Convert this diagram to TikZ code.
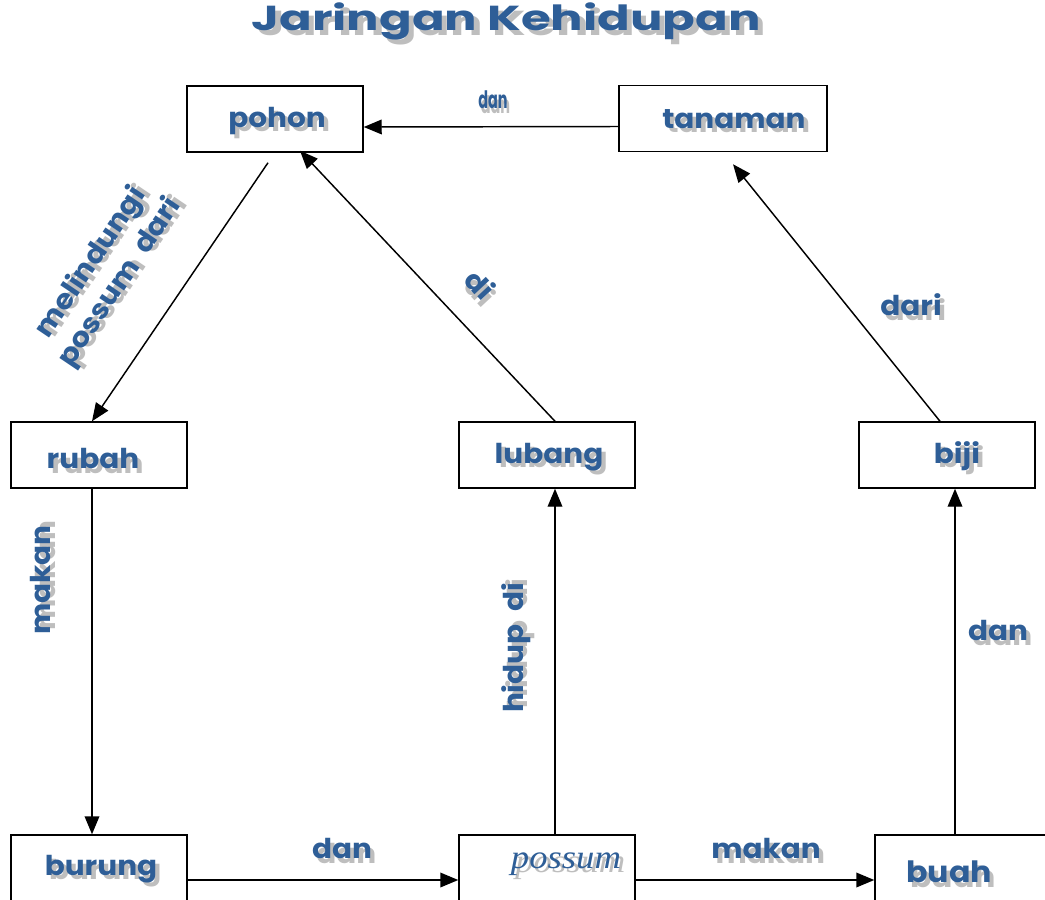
\documentclass[tikz,border=0pt]{standalone}
\usepackage{fontspec}
\setmainfont{Poppins}[BoldFont={* Bold}]
\newfontfamily\serifit{Liberation Serif}
\newfontfamily\titlefont{Poppins}[UprightFont={* Bold}]
\usetikzlibrary{arrows.meta}
\definecolor{txtblue}{HTML}{2E5E97}
\definecolor{shgray}{HTML}{BEBEBE}
\newcommand\shd[1]{\leavevmode\rlap{\kern3pt\raisebox{-3.4pt}{\color{shgray}#1}}{\color{txtblue}#1}}
\newcommand\wide[1]{\scalebox{1.08}[1]{\shd{#1}}}
\tikzset{
  box/.style={draw=black, line width=1.1pt, rectangle, minimum width=132pt, minimum height=49.5pt, inner sep=0pt},
  lowbox/.style={box, minimum height=67.5pt},
  conn/.style={line width=1.1pt, -{Triangle[length=13.5pt,width=11pt]}},
  lbl/.style={inner sep=0pt, font=\fontsize{20.5}{24}\selectfont\bfseries},
}
\begin{document}
\begin{tikzpicture}[x=0.75pt,y=-0.75pt]
\clip (0,0) rectangle (1045,899);
\fill[white] (0,0) rectangle (1045,899);
% title
\node[inner sep=0pt, font=\titlefont\fontsize{26}{30}\selectfont] (title) at (506,24) {\scalebox{1.39}[1]{\shd{Jaringan Kehidupan}}};
% boxes
\node[box] (pohon) at (275,119) {};
\node[box, minimum width=156pt] (tanaman) at (723,118.5) {};
\node[box] (rubah) at (99,455) {};
\node[box] (lubang) at (547,455) {};
\node[box] (biji) at (947,455) {};
\node[lowbox] (burung) at (99,880) {};
\node[lowbox] (possum) at (547,880) {};
\node[lowbox] (buah) at (963,880) {};
% box texts
\node[lbl] (tpohon) at (277,123) {\wide{pohon}};
\node[lbl] (ttanaman) at (734,121) {\wide{tanaman}};
\node[lbl] (trubah) at (93,461) {\wide{rubah}};
\node[lbl] (tlubang) at (549,459) {\wide{lubang}};
\node[lbl] (tbiji) at (957,458) {\wide{biji}};
\node[lbl] (tburung) at (101,871) {\wide{burung}};
\node[inner sep=0pt, font=\serifit\itshape\fontsize{25}{28}\selectfont] (tpossum) at (566,866) {\scalebox{1.1}[1]{\shd{possum}}};
\node[lbl, font=\fontsize{22}{24}\selectfont\bfseries] (tbuah) at (949,874) {\wide{buah}};
% connectors
\draw[conn] ([shift={(0,8)}]tanaman.west) -- ([shift={(0,8)}]pohon.east);
\draw[conn] ([shift={(-7,10)}]pohon.south) -- ([shift={(-7,0)}]rubah.north);
\draw[conn] ([shift={(8,0)}]lubang.north) -- ([shift={(25,-2)}]pohon.south);
\draw[conn] ([shift={(-7,0)}]biji.north) -- ([shift={(10,12)}]tanaman.south);
\draw[conn] ([shift={(-7,0)}]rubah.south) -- ([shift={(-7,0)}]burung.north);
\draw[conn] ([shift={(8,0)}]possum.north) -- ([shift={(8,0)}]lubang.south);
\draw[conn] ([shift={(-8,0)}]buah.north) -- ([shift={(8,0)}]biji.south);
\draw[conn] (burung.east) -- (possum.west);
\draw[conn] (possum.east) -- (buah.west);
% connector labels
\node[lbl, font=\fontsize{18}{20}\selectfont\bfseries] (ldan1) at (493,102) {\scalebox{0.6}[1]{\shd{dan}}};
\node[lbl, rotate=56, align=center] (lmel) at (108,274) {\wide{melindungi}\\[0pt]\wide{possum\ \ dari}};
\node[lbl, rotate=-47] (ldi) at (479,286) {\wide{di}};
\node[lbl] (ldari) at (911,307) {\wide{dari}};
\node[lbl, rotate=90] (lmakan1) at (43,580) {\wide{makan}};
\node[lbl, rotate=90] (lhidup) at (518,648) {\wide{hidup\ \ di}};
\node[lbl] (ldan2) at (998,633) {\wide{dan}};
\node[lbl] (ldan3) at (342,851) {\wide{dan}};
\node[lbl] (lmakan2) at (766,851) {\wide{makan}};
\end{tikzpicture}
\end{document}
